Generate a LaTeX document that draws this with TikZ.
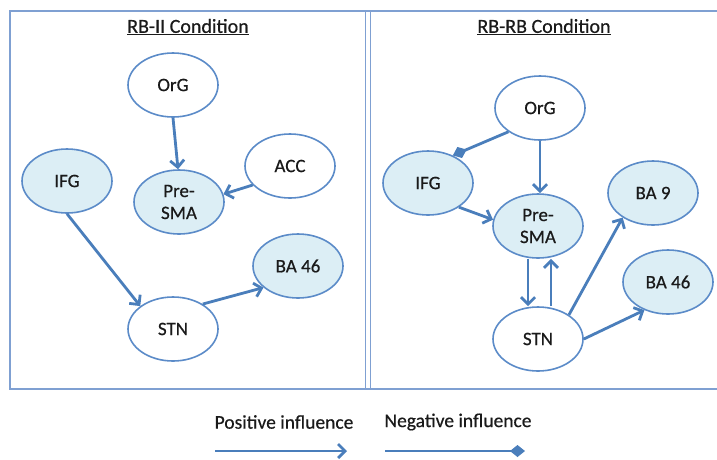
\documentclass[tikz,border=0pt]{standalone}
\usepackage{fontspec}
\setmainfont{Carlito}
\newfontfamily\labelfont{Carlito}[FakeBold=0.5]
\usetikzlibrary{shapes.geometric,arrows.meta}
\definecolor{arrowblue}{HTML}{4A7EBB}
\definecolor{nodeline}{HTML}{5B8BC8}
\definecolor{framecol}{HTML}{7FA0D2}
\definecolor{nodefill}{HTML}{DCEEF5}
\definecolor{txt}{HTML}{1A1A1A}
\tikzset{
  region/.style={ellipse,draw=nodeline,line width=1.6pt,minimum width=90pt,minimum height=64pt,inner sep=0pt,
    font=\labelfont\fontsize{19}{22}\selectfont,text=txt,align=center},
  hot/.style={region,fill=nodefill},
  cold/.style={region,fill=white},
  posarrow/.style={draw=arrowblue,line width=2.8pt,-{Straight Barb[length=7pt,width=14pt]}},
  negarrow/.style={draw=arrowblue,line width=2.8pt,-{Diamond[length=15pt,width=12pt]}},
  frameline/.style={draw=framecol,line width=2.5pt},
  thinframe/.style={draw=framecol,line width=1.6pt},
  titletext/.style={font=\labelfont\fontsize{20}{24}\selectfont,text=txt},
  legendtext/.style={font=\labelfont\fontsize{19.5}{22}\selectfont,text=txt}
}
\begin{document}
\begin{tikzpicture}[x=1pt,y=-1pt]
\useasboundingbox (0,0) rectangle (717,459);
% frame
\coordinate (tl) at (10,11);
\coordinate (bl) at (10,389);
\coordinate (tr) at (717,11);
\coordinate (br) at (717,389);
\coordinate (d1t) at (365.5,11);
\coordinate (d1b) at (365.5,389);
\coordinate (d2t) at (370.5,11);
\coordinate (d2b) at (370.5,389);
\draw[frameline] (tr) -- (tl) -- (bl) -- (br);
\draw[thinframe] (d1t) -- (d1b);
\draw[thinframe] (d2t) -- (d2b);

% titles
\node[titletext] (t1) at (188,27) {\underline{RB-II Condition}};
\node[titletext] (t2) at (544,27) {\underline{RB-RB Condition}};

% left panel
\node[cold] (LOrG) at (173,85) {OrG};
\node[cold] (LACC) at (290,166) {ACC};
\node[hot] (LIFG) at (67,181) {IFG};
\node[hot] (LPre) at (179,202) {Pre-\\SMA};
\node[hot] (LBA46) at (298,266) {BA 46};
\node[cold] (LSTN) at (173,329) {STN};

\draw[posarrow] (LOrG.south) -- ([xshift=-1pt]LPre.north);
\draw[posarrow] (LACC.207) -- (LPre.10);
\draw[posarrow] (LIFG.south) -- (LSTN.145);
\draw[posarrow] (LSTN.40) -- (LBA46.212);

% right panel
\node[cold] (ROrG) at (540,108) {OrG};
\node[hot] (RIFG) at (428,183) {IFG};
\node[hot] (RPre) at (538,226) {Pre-\\SMA};
\node[hot] (RBA9) at (653,193) {BA 9};
\node[hot] (RBA46) at (668,282) {BA 46};
\node[cold] (RSTN) at (538,339) {STN};

\draw[negarrow] (ROrG.217) -- (RIFG.48);
\draw[posarrow] (ROrG.south) -- ([xshift=2pt]RPre.north);
\draw[posarrow] (RIFG.-38) -- (RPre.172);
\draw[posarrow] ([xshift=-10pt]RPre.south) -- ([xshift=-10pt]RSTN.north);
\draw[posarrow] ([xshift=13pt]RSTN.north) -- ([xshift=13pt]RPre.south);
\draw[posarrow] (RSTN.38) -- (RBA9.219);
\draw[posarrow] (RSTN.east) -- (RBA46.230);

% legend
\node[legendtext] (lp) at (284,422) {Positive influence};
\node[legendtext] (ln) at (458,422) {Negative influence};
\coordinate (lpa) at (215,451);
\coordinate (lpb) at (347,451);
\coordinate (lna) at (385,451);
\coordinate (lnb) at (525,451);
\draw[posarrow] (lpa) -- (lpb);
\draw[negarrow] (lna) -- (lnb);
\end{tikzpicture}
\end{document}
